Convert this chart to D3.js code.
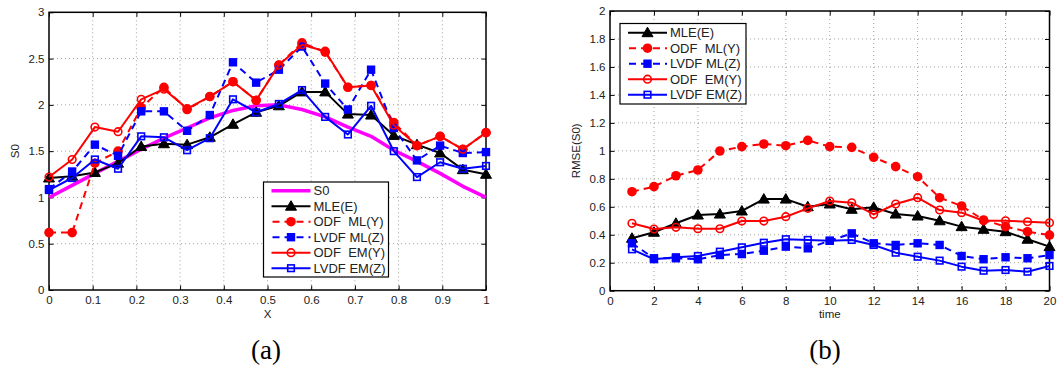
<!DOCTYPE html>
<html><head><meta charset="utf-8">
<script src="https://cdn.jsdelivr.net/npm/d3@7"></script>
<style>
body{margin:0;background:#fff}
svg{display:block}
</style>
</head><body>
<svg id="c" width="1061" height="374"></svg>
<script>
// ---------- Panel (a) data ----------
const xA = [0,0.053,0.105,0.158,0.211,0.263,0.316,0.368,0.421,0.474,0.526,0.579,0.632,0.684,0.737,0.789,0.842,0.895,0.947,1];
const s0A      = [1.00,1.13,1.26,1.39,1.52,1.64,1.75,1.86,1.94,1.99,2.00,1.95,1.87,1.76,1.66,1.51,1.39,1.26,1.12,1.00];
const mleA     = [1.21,1.23,1.27,1.37,1.55,1.58,1.57,1.65,1.79,1.92,1.99,2.14,2.14,1.90,1.89,1.67,1.57,1.48,1.30,1.25];
const odfMlA   = [0.62,0.62,1.37,1.50,1.97,2.19,1.95,2.09,2.25,2.05,2.43,2.67,2.57,2.19,2.21,1.81,1.56,1.66,1.52,1.70];
const lvdfMlA  = [1.09,1.28,1.57,1.45,1.93,1.93,1.72,1.89,2.46,2.24,2.38,2.63,2.23,1.95,2.38,1.75,1.40,1.56,1.48,1.49];
const odfEmA   = [1.22,1.41,1.76,1.71,2.06,2.17,1.96,2.09,2.25,2.05,2.43,2.65,2.58,2.19,2.21,1.78,1.56,1.66,1.52,1.70];
const lvdfEmA  = [1.08,1.21,1.41,1.31,1.66,1.65,1.51,1.64,2.06,1.92,2.01,2.16,1.87,1.68,1.99,1.50,1.22,1.38,1.31,1.34];
const xTicksA = [0,0.1,0.2,0.3,0.4,0.5,0.6,0.7,0.8,0.9,1];
const yTicksA = [0,0.5,1,1.5,2,2.5,3];

// ---------- Panel (b) data ----------
const timeB = [1,2,3,4,5,6,7,8,9,10,11,12,13,14,15,16,17,18,19,20];
const mleB    = [0.375,0.418,0.482,0.541,0.548,0.570,0.655,0.655,0.600,0.620,0.582,0.596,0.548,0.534,0.500,0.458,0.439,0.422,0.368,0.315];
const odfMlB  = [0.708,0.744,0.822,0.863,0.999,1.030,1.049,1.037,1.075,1.030,1.025,0.954,0.887,0.815,0.665,0.606,0.506,0.458,0.422,0.398];
const lvdfMlB = [0.339,0.232,0.232,0.225,0.255,0.262,0.286,0.315,0.303,0.357,0.410,0.339,0.327,0.339,0.327,0.248,0.225,0.239,0.232,0.255];
const odfEmB  = [0.482,0.441,0.453,0.443,0.443,0.498,0.498,0.529,0.589,0.641,0.629,0.546,0.620,0.665,0.577,0.558,0.500,0.500,0.493,0.486];
const lvdfEmB = [0.296,0.225,0.239,0.248,0.279,0.310,0.343,0.368,0.363,0.357,0.363,0.327,0.272,0.243,0.215,0.172,0.143,0.148,0.136,0.177];
const xTicksB = [0,2,4,6,8,10,12,14,16,18,20];
const yTicksB = [0,0.2,0.4,0.6,0.8,1,1.2,1.4,1.6,1.8,2];

const RED="#ff0000", BLUE="#0000ff", BLACK="#000000", MAG="#ff00ff";
const SANS="Liberation Sans, Arial, Helvetica, sans-serif";
const SERIF="Liberation Serif, DejaVu Serif, serif";
const styles = {
  s0:     {label:"S0",          color:MAG,   dash:null,  width:3.5, marker:null},
  mle:    {label:"MLE(E)",      color:BLACK, dash:null,  width:2,   marker:"tri"},
  odfMl:  {label:"ODF  ML(Y)",  color:RED,   dash:"7,5", width:2,   marker:"dot"},
  lvdfMl: {label:"LVDF ML(Z)",  color:BLUE,  dash:"7,5", width:2,   marker:"sqf"},
  odfEm:  {label:"ODF  EM(Y)",  color:RED,   dash:null,  width:2,   marker:"circ"},
  lvdfEm: {label:"LVDF EM(Z)",  color:BLUE,  dash:null,  width:2,   marker:"sqo"}
};

const svg = d3.select("#c");

function marker(g, type, color, x, y){
  if(type==="tri"){
    g.append("path").attr("d",`M${x},${y-5.5}L${x+5.5},${y+4}L${x-5.5},${y+4}Z`).attr("fill",color).attr("stroke",color).attr("stroke-width",1);
  } else if(type==="dot"){
    g.append("circle").attr("cx",x).attr("cy",y).attr("r",4.8).attr("fill",color);
  } else if(type==="circ"){
    g.append("circle").attr("cx",x).attr("cy",y).attr("r",3.8).attr("fill","none").attr("stroke",color).attr("stroke-width",1.6);
  } else if(type==="sqf"){
    g.append("rect").attr("x",x-4.2).attr("y",y-4.2).attr("width",8.4).attr("height",8.4).attr("fill",color);
  } else if(type==="sqo"){
    g.append("rect").attr("x",x-3.3).attr("y",y-3.3).attr("width",6.6).attr("height",6.6).attr("fill","none").attr("stroke",color).attr("stroke-width",1.6);
  }
}

function panel(cfg){
  const x = d3.scaleLinear().domain(cfg.xDom).range([cfg.left,cfg.right]);
  const y = d3.scaleLinear().domain(cfg.yDom).range([cfg.bottom,cfg.top]);
  const g = svg.append("g");
  // grid
  const grid = g.append("g").attr("stroke","#888").attr("stroke-width",0.8).attr("stroke-dasharray","1,3");
  cfg.xTicks.slice(1,-1).forEach(t=>grid.append("line").attr("x1",x(t)).attr("x2",x(t)).attr("y1",cfg.top).attr("y2",cfg.bottom));
  cfg.yTicks.slice(1,-1).forEach(t=>grid.append("line").attr("y1",y(t)).attr("y2",y(t)).attr("x1",cfg.left).attr("x2",cfg.right));
  // axes (ticks inward)
  const fmt = d=>String(d);
  const ax = g.append("g").attr("transform",`translate(0,${cfg.bottom})`)
    .call(d3.axisBottom(x).tickValues(cfg.xTicks).tickFormat(fmt).tickSizeInner(-4.5).tickSizeOuter(0).tickPadding(6));
  const ay = g.append("g").attr("transform",`translate(${cfg.left},0)`)
    .call(d3.axisLeft(y).tickValues(cfg.yTicks).tickFormat(fmt).tickSizeInner(-4.5).tickSizeOuter(0).tickPadding(4.5));
  const at = g.append("g").attr("transform",`translate(0,${cfg.top})`)
    .call(d3.axisTop(x).tickValues(cfg.xTicks).tickFormat("").tickSizeInner(-4.5).tickSizeOuter(0));
  const ar = g.append("g").attr("transform",`translate(${cfg.right},0)`)
    .call(d3.axisRight(y).tickValues(cfg.yTicks).tickFormat("").tickSizeInner(-4.5).tickSizeOuter(0));
  [ax,ay,at,ar].forEach(a=>{
    a.select(".domain").remove();
    a.selectAll("line").attr("stroke","#000").attr("stroke-width",1);
    a.selectAll("text").style("font-size","11.5px").style("font-family",SANS).attr("fill","#222");
  });
  g.append("rect").attr("x",cfg.left).attr("y",cfg.top).attr("width",cfg.right-cfg.left).attr("height",cfg.bottom-cfg.top)
    .attr("fill","none").attr("stroke","#000").attr("stroke-width",1.5);
  // series
  cfg.series.forEach(s=>{
    const st = styles[s.key];
    const pts = cfg.xs.map((xv,i)=>[x(xv),y(s.values[i])]);
    const path = g.append("path").attr("d",d3.line()(pts)).attr("fill","none")
      .attr("stroke",st.color).attr("stroke-width",st.width).attr("stroke-linejoin","round");
    if(st.dash) path.attr("stroke-dasharray",st.dash);
    if(st.marker){ const mg=g.append("g"); pts.forEach(p=>marker(mg,st.marker,st.color,p[0],p[1])); }
  });
  // labels
  g.append("text").attr("x",(cfg.left+cfg.right)/2).attr("y",cfg.xLabelY).attr("text-anchor","middle")
    .style("font-family",SANS).style("font-size","11.5px").attr("fill","#222").text(cfg.xLabel);
  g.append("text").attr("transform",`translate(${cfg.yLabelX},${(cfg.top+cfg.bottom)/2}) rotate(-90)`).attr("text-anchor","middle")
    .style("font-family",SANS).style("font-size","11.5px").attr("fill","#222").text(cfg.yLabel);
  g.append("text").attr("x",cfg.capX).attr("y",359).attr("text-anchor","middle")
    .style("font-family",SERIF).style("font-size","27px").attr("fill","#000").text(cfg.caption);
  // legend
  const L = cfg.legend;
  const keys = cfg.series.map(s=>s.key);
  const lg = g.append("g");
  lg.append("rect").attr("x",L.x).attr("y",L.y).attr("width",L.w).attr("height",L.h).attr("fill","#fff").attr("stroke","#000").attr("stroke-width",1.2);
  keys.forEach((k,i)=>{
    const st = styles[k];
    const yy = L.y + L.first + i*L.step;
    const ln = lg.append("line").attr("x1",L.x+L.l1).attr("x2",L.x+L.l2).attr("y1",yy).attr("y2",yy)
      .attr("stroke",st.color).attr("stroke-width",st.width);
    if(st.dash) ln.attr("stroke-dasharray","7,5").attr("stroke-dashoffset",-1);
    if(st.marker) marker(lg,st.marker,st.color,L.x+(L.l1+L.l2)/2,yy);
    lg.append("text").attr("x",L.x+L.tx).attr("y",yy).attr("dy","0.35em")
      .style("font-family",SANS).style("font-size","13px")
      .attr("fill","#222").style("white-space","pre").attr("xml:space","preserve").text(st.label);
  });
}

panel({
  left:49, right:486, top:12.3, bottom:290,
  xDom:[0,1], yDom:[0,3], xTicks:xTicksA, yTicks:yTicksA, xs:xA,
  series:[{key:"s0",values:s0A},{key:"mle",values:mleA},{key:"odfMl",values:odfMlA},
          {key:"lvdfMl",values:lvdfMlA},{key:"odfEm",values:odfEmA},{key:"lvdfEm",values:lvdfEmA}],
  xLabel:"X", xLabelY:318, yLabel:"S0", yLabelX:19, caption:"(a)", capX:266,
  legend:{x:263.5,y:182,w:125,h:95,first:8.7,step:15.5,l1:8,l2:47,tx:50}
});
panel({
  left:610, right:1049.5, top:11, bottom:290.7,
  xDom:[0,20], yDom:[0,2], xTicks:xTicksB, yTicks:yTicksB, xs:timeB,
  series:[{key:"mle",values:mleB},{key:"odfMl",values:odfMlB},{key:"lvdfMl",values:lvdfMlB},
          {key:"odfEm",values:odfEmB},{key:"lvdfEm",values:lvdfEmB}],
  xLabel:"time", xLabelY:318, yLabel:"RMSE(S0)", yLabelX:580, caption:"(b)", capX:825,
  legend:{x:620,y:23.5,w:126,h:80.5,first:9.2,step:15.5,l1:8,l2:47,tx:50}
});
</script>
</body></html>
